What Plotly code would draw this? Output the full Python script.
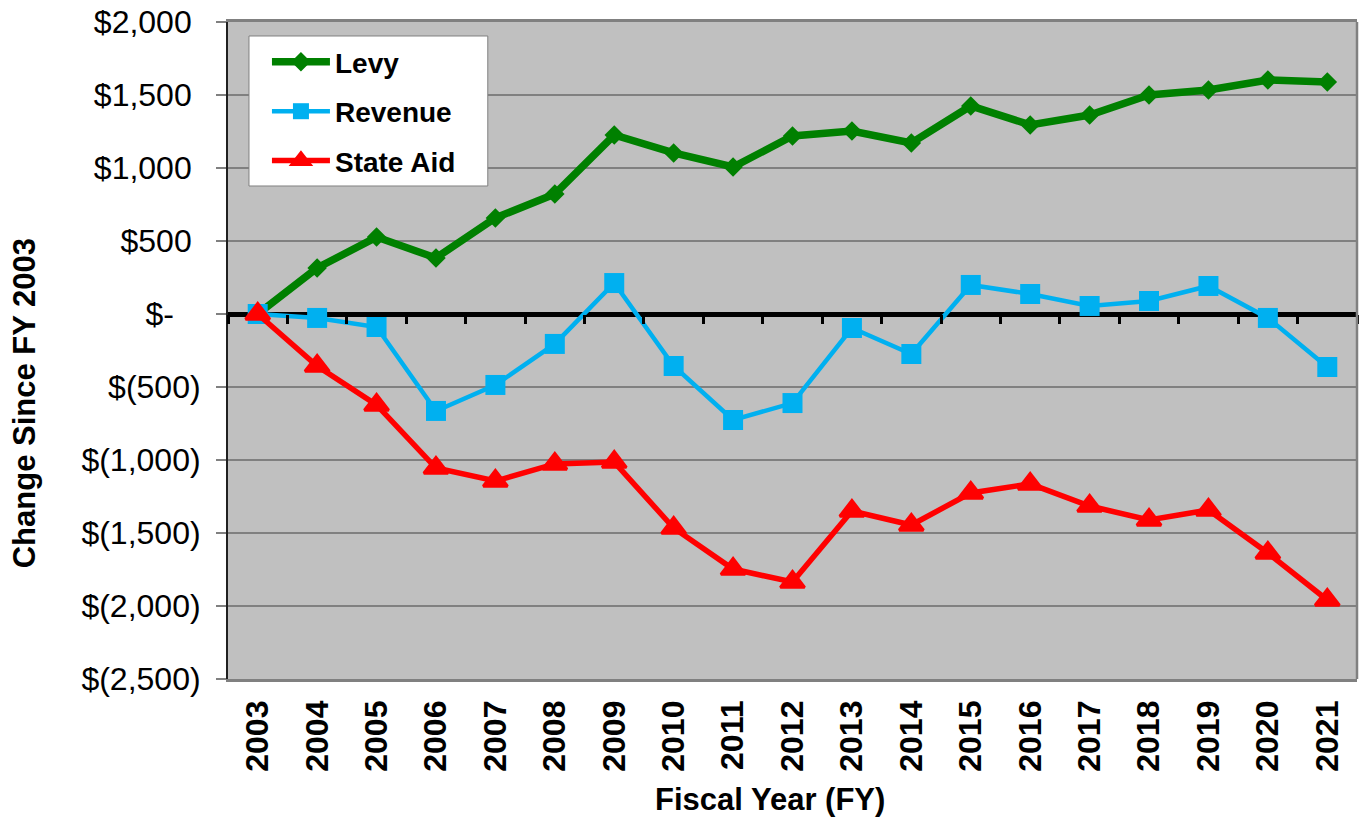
import plotly.graph_objects as go

years = [str(y) for y in range(2003, 2022)]
levy = [0, 315, 527, 384, 658, 822, 1226, 1103, 1007, 1219, 1253, 1171, 1425, 1295, 1363, 1500, 1534, 1603, 1589]
revenue = [0, -27, -89, -664, -486, -205, 212, -356, -726, -610, -96, -274, 199, 137, 55, 89, 192, -27, -363]
state_aid = [0, -356, -623, -1055, -1144, -1027, -1014, -1466, -1747, -1836, -1349, -1445, -1226, -1164, -1315, -1411, -1342, -1637, -1959]

NB = "\u00a0"
y_tickvals = [2000, 1500, 1000, 500, 0, -500, -1000, -1500, -2000, -2500]
y_ticktext = ["$2,000" + NB, "$1,500" + NB, "$1,000" + NB, "$500" + NB, "$-" + NB * 3,
              "$(500)", "$(1,000)", "$(1,500)", "$(2,000)", "$(2,500)"]

FONT = "Liberation Sans, Arial, Helvetica, sans-serif"

fig = go.Figure()
fig.add_trace(go.Scatter(x=years, y=levy, name="Levy", mode="lines+markers", legendgroup="a",
                         line=dict(color="#008000", width=7.5),
                         marker=dict(symbol="diamond", size=15, color="#008000")))
fig.add_trace(go.Scatter(x=years, y=revenue, name="Revenue", mode="lines+markers", legendgroup="b",
                         line=dict(color="#00B0F0", width=4.5),
                         marker=dict(symbol="square", size=20, color="#00B0F0")))
fig.add_trace(go.Scatter(x=years, y=state_aid, name="State Aid", mode="lines+markers", legendgroup="c",
                         line=dict(color="#FF0000", width=5.5),
                         marker=dict(symbol="triangle-up", size=21, color="#FF0000",
                                     line=dict(color="#FF0000", width=3))))
# invisible trace that hosts the tick axis drawn on the zero line
fig.add_trace(go.Scatter(x=years, y=levy, xaxis="x2", showlegend=False, hoverinfo="skip",
                         mode="markers", marker=dict(opacity=0)))

fig.update_layout(
    width=1363, height=817,
    margin=dict(l=228, r=6, t=22, b=138),
    paper_bgcolor="white",
    plot_bgcolor="#C0C0C0",
    font=dict(family=FONT, color="black"),
    showlegend=True,
    legend=dict(x=0.0345, y=0.977, xanchor="left", yanchor="top",
                bgcolor="rgba(0,0,0,0)", borderwidth=0,
                font=dict(family=FONT, size=28, weight="bold", color="black"),
                itemwidth=58, tracegroupgap=10),
    shapes=[
        dict(type="rect", xref="paper", yref="paper", x0=0.01858, x1=0.2301, y0=0.7504, y1=0.9787,
             fillcolor="white", line=dict(color="#808080", width=1), layer="above"),
        dict(type="line", xref="paper", yref="paper", x0=1, x1=1, y0=0, y1=1,
             line=dict(color="#808080", width=2.5), layer="above"),
    ],
    xaxis=dict(type="category", categoryorder="array", categoryarray=years,
               range=[-0.5, 18.5], showgrid=False, zeroline=False, automargin=False,
               showline=True, linecolor="#808080", linewidth=2.5, mirror=True,
               ticks="", tickangle=-90, ticklabelstandoff=6, ticklabeloverflow="allow",
               tickfont=dict(family=FONT, size=32, weight="bold", color="black")),
    xaxis2=dict(type="category", categoryorder="array", categoryarray=years,
                overlaying="x", anchor="free", position=2500 / 4500, automargin=False,
                range=[-0.5, 18.5], showgrid=False, zeroline=False, showline=False,
                ticks="outside", tickson="boundaries", ticklen=9, tickwidth=3,
                tickcolor="black", showticklabels=False),
    yaxis=dict(range=[-2500, 2000], tickvals=y_tickvals, ticktext=y_ticktext,
               automargin=False, ticklabeloverflow="allow",
               showgrid=True, gridcolor="#808080", gridwidth=1.5,
               zeroline=True, zerolinecolor="black", zerolinewidth=4.5,
               showline=True, linecolor="#202020", linewidth=2,
               ticks="outside", ticklen=10, tickwidth=1.5, tickcolor="#808080",
               ticklabelstandoff=9,
               tickfont=dict(family=FONT, size=32, color="black")),
    annotations=[
        dict(text="Change Since FY 2003", xref="paper", yref="paper",
             x=-0.1805, y=0.420, xanchor="center", yanchor="middle", textangle=-90,
             showarrow=False, font=dict(family=FONT, size=31, weight="bold", color="black")),
        dict(text="Fiscal Year (FY)", xref="paper", yref="paper",
             x=0.4805, y=-0.184, xanchor="center", yanchor="middle",
             showarrow=False, font=dict(family=FONT, size=31, weight="bold", color="black")),
    ],
)

# remove the browser's default 8px body margin so the figure fills the window exactly
fig.write_html("out.html", config={"displayModeBar": False},
               post_script="document.body.style.margin='0';document.body.style.overflow='hidden';")
